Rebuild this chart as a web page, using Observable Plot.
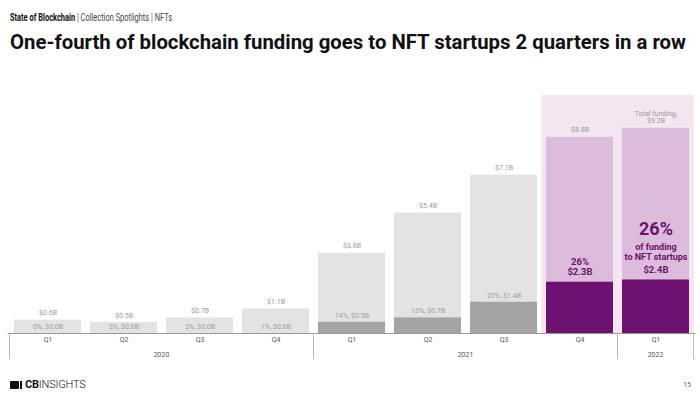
<!DOCTYPE html>
<html>
<head>
<meta charset="utf-8">
<script src="https://cdn.jsdelivr.net/npm/d3@7"></script>
<script src="https://cdn.jsdelivr.net/npm/@observablehq/plot@0.6"></script>
<style>
  html, body { margin: 0; padding: 0; background: #fff; width: 700px; height: 398px; overflow: hidden; font-family: Roboto, "Noto Sans", sans-serif; }
  #hdr { position: relative; height: 60px; }
  #sub { position: absolute; left: 10px; top: 12px; font-size: 11px; line-height: 11px; white-space: nowrap; color: #444; transform-origin: left top; }
  #sub b { color: #111; font-weight: 700; }
  #ttl { position: absolute; left: 10px; top: 32px; font-size: 20px; line-height: 20px; font-weight: 700; white-space: nowrap; color: #111; transform-origin: left top; }
  #chart { height: 310px; }
  #ftr { position: relative; height: 28px; }
  #logo { position: absolute; left: 10px; top: 9px; height: 11px; display: flex; align-items: center; white-space: nowrap; }
  #logo .ico { display: inline-block; width: 9px; height: 8px; background: #111; border-radius: 1px; margin-right: 1px; }
  #logo .ico2 { display: inline-block; width: 2px; height: 8px; background: #111; margin-right: 3px; }
  #logo .txt { font-size: 11px; line-height: 11px; color: #111; letter-spacing: -0.2px; }
  #logo .txt b { font-weight: 700; }
  #logo .txt span { font-weight: 300; }
  #pg { position: absolute; right: 9px; top: 11px; font-size: 7px; color: #666; }
</style>
</head>
<body>
<div id="hdr">
  <div id="sub"><b>State of Blockchain</b> | Collection Spotlights | NFTs</div>
  <div id="ttl">One-fourth of blockchain funding goes to NFT startups 2 quarters in a row</div>
</div>
<div id="chart"></div>
<div id="ftr">
  <div id="logo"><span class="ico"></span><span class="ico2"></span><span class="txt"><b>CB</b><span>INSIGHTS</span></span></div>
  <div id="pg">15</div>
</div>
<script>
// ---- data ----
const quarters = ["Q1", "Q2", "Q3", "Q4", "Q1", "Q2", "Q3", "Q4", "Q1"];
const years = ["2020", "2020", "2020", "2020", "2021", "2021", "2021", "2021", "2022"];
const totalFunding = [0.6, 0.5, 0.7, 1.1, 3.6, 5.4, 7.1, 8.8, 9.2];   // $B, all blockchain
const nftFunding = [0.0, 0.0, 0.0, 0.0, 0.5, 0.7, 1.4, 2.3, 2.4];     // $B, NFT startups
const nftShare = [0, 3, 3, 1, 14, 13, 20, 26, 26];                    // %
const highlighted = [false, false, false, false, false, false, false, true, true];

// ---- fit header text ----
function fit(id, w) {
  const el = document.getElementById(id);
  const r = el.getBoundingClientRect();
  el.style.transform = `scaleX(${w / r.width})`;
}
fit("ttl", 676);
fit("sub", 162);

const keys = quarters.map((q, i) => `${q} ${years[i]}`);
const rows = keys.map((k, i) => ({
  key: k, q: quarters[i], year: years[i],
  total: totalFunding[i], nft: nftFunding[i], share: nftShare[i], hi: highlighted[i]
}));
const yTop = 10.67;
const purple = "#6e1170";
const fmtB = v => `$${v.toFixed(1)}B`;

// group frame + year labels drawn from the x scale
function yearFrame(index, scales, values, dims) {
  const x = scales.x;
  const bw = typeof x.bandwidth === "function" ? x.bandwidth() : x.bandwidth;
  const gap = x(keys[1]) - x(keys[0]) - bw;
  const y0 = dims.height - dims.marginBottom;
  const g = d3.create("svg:g");
  const groups = d3.groups(rows, d => d.year);
  const bounds = new Set();
  for (const [yr, items] of groups) {
    const x0 = x(items[0].key) - gap / 2;
    const x1 = x(items[items.length - 1].key) + bw + gap / 2;
    bounds.add(Math.round(x0 * 2) / 2); bounds.add(Math.round(x1 * 2) / 2);
    g.append("text")
      .attr("x", (x0 + x1) / 2).attr("y", y0 + 22)
      .attr("text-anchor", "middle").attr("dominant-baseline", "middle")
      .attr("font-size", 7).attr("fill", "#555")
      .attr("font-family", "Roboto, sans-serif")
      .text(yr);
  }
  for (const b of bounds) {
    g.append("line").attr("x1", b).attr("x2", b).attr("y1", y0).attr("y2", y0 + 26)
      .attr("stroke", "#bbb").attr("stroke-width", 1);
  }
  return g.node();
}

const plot = Plot.plot({
  width: 700,
  height: 310,
  marginTop: 35,
  marginBottom: 37,
  marginLeft: 7.5,
  marginRight: 4.5,
  style: { fontFamily: "Roboto, sans-serif", background: "transparent" },
  x: { domain: keys, paddingInner: 0.124, paddingOuter: 0.062, align: 0.5, axis: null },
  y: { domain: [0, yTop], axis: null },
  marks: [
    // highlight background
    Plot.barY(rows.filter(d => d.hi), { x: "key", y1: 0, y2: () => yTop, fill: "#f4e6f1", insetLeft: -4.75, insetRight: -4.75 }),
    // total bars
    Plot.barY(rows, { x: "key", y: "total", fill: d => d.hi ? "#dbbddb" : "#e3e3e3" }),
    // NFT bars
    Plot.barY(rows, { x: "key", y: "nft", fill: d => d.hi ? purple : "#a4a4a4" }),
    // baseline
    Plot.ruleY([0], { stroke: "#999", strokeWidth: 1 }),
    // total labels
    Plot.text(rows.filter(d => d.key !== "Q1 2022"), { x: "key", y: "total", text: d => fmtB(d.total), dy: -7, fontSize: 7, fill: "#999" }),
    Plot.text(rows.filter(d => d.key === "Q1 2022"), { x: "key", y: "total", text: d => `Total funding,\n${fmtB(d.total)}`, lineAnchor: "bottom", lineHeight: 1.1, dy: -5, fontSize: 7, fill: "#999" }),
    // NFT labels (gray)
    Plot.text(rows.filter(d => !d.hi), { x: "key", y: "nft", text: d => `${d.share}%, ${fmtB(d.nft)}`, dy: -7, fontSize: 7, fill: "#9e9e9e" }),
    // NFT labels (highlight)
    Plot.text(rows.filter(d => d.hi), { x: "key", y: "nft", text: d => fmtB(d.nft), dy: -10, fontSize: 9.5, fontWeight: "bold", fill: purple }),
    Plot.text(rows.filter(d => d.key === "Q4 2021"), { x: "key", y: "nft", text: d => `${d.share}%`, dy: -20, fontSize: 9.5, fontWeight: "bold", fill: purple }),
    Plot.text(rows.filter(d => d.key === "Q1 2022"), { x: "key", y: "nft", text: d => `${d.share}%`, dy: -51, fontSize: 18, fontWeight: "bold", fill: purple }),
    Plot.text(rows.filter(d => d.key === "Q1 2022"), { x: "key", y: "nft", text: () => "of funding", dy: -33, fontSize: 9, fontWeight: "bold", fill: purple }),
    Plot.text(rows.filter(d => d.key === "Q1 2022"), { x: "key", y: "nft", text: () => "to NFT startups", dy: -23, fontSize: 9, fontWeight: "bold", fill: purple }),
    // quarter tick labels
    Plot.text(rows, { x: "key", frameAnchor: "bottom", text: "q", dy: 8, fontSize: 7, fill: "#555" }),
    // year frame
    yearFrame
  ]
});
document.getElementById("chart").appendChild(plot);
</script>
</body>
</html>
